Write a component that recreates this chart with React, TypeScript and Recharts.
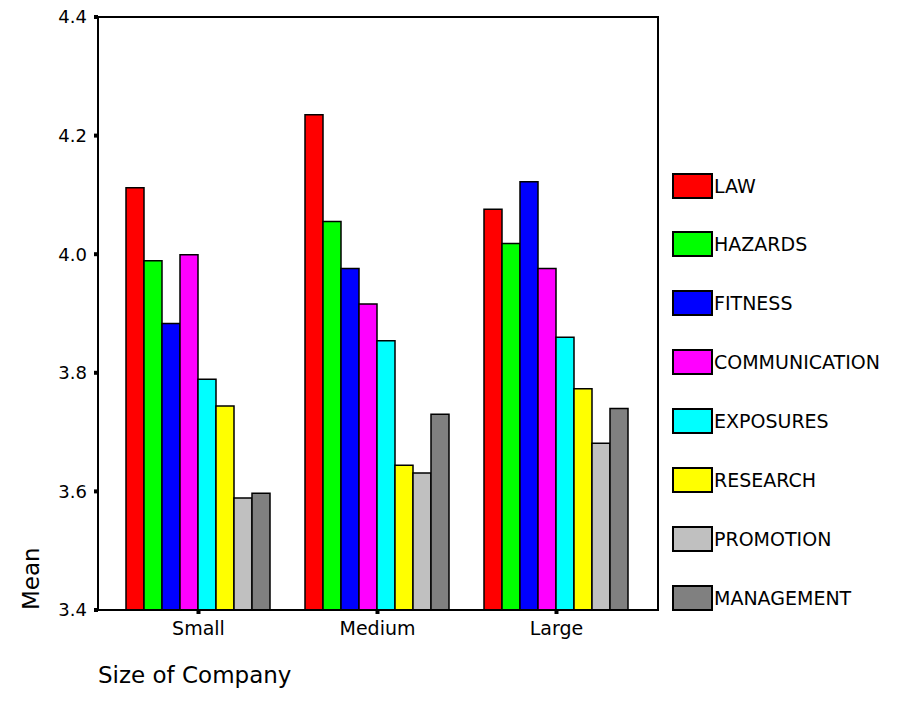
import React from "react";
import { BarChart, Bar, XAxis, YAxis, ReferenceLine } from "recharts";

const categories = ["Small", "Medium", "Large"];
const seriesNames = ["LAW", "HAZARDS", "FITNESS", "COMMUNICATION", "EXPOSURES", "RESEARCH", "PROMOTION", "MANAGEMENT"];
const seriesColors = ["#FF0000", "#00FF00", "#0000FF", "#FF00FF", "#00FFFF", "#FFFF00", "#C0C0C0", "#808080"];
const law = [4.112, 4.235, 4.076];
const hazards = [3.989, 4.055, 4.018];
const fitness = [3.883, 3.976, 4.122];
const communication = [3.999, 3.916, 3.976];
const exposures = [3.789, 3.854, 3.86];
const research = [3.744, 3.644, 3.773];
const promotion = [3.589, 3.631, 3.681];
const management = [3.597, 3.73, 3.74];
const yTicks = [3.4, 3.6, 3.8, 4.0, 4.2, 4.4];

const seriesValues = [law, hazards, fitness, communication, exposures, research, promotion, management];

const data = categories.map((c, i) => {
  const row: Record<string, any> = { category: c };
  seriesNames.forEach((n, k) => {
    row[n] = seriesValues[k][i];
  });
  return row;
});

const FONT = "'DejaVu Sans', 'Liberation Sans', Arial, sans-serif";

export default function App() {
  return (
    <div style={{ position: "relative", width: 897, height: 717, marginTop: -8, fontFamily: FONT }}>
      <BarChart
        width={897}
        height={717}
        data={data}
        margin={{ top: 17, right: 247, bottom: 67, left: 0 }}
        barCategoryGap={17}
        barGap={0}
      >
        <XAxis
          dataKey="category"
          padding={{ left: 11, right: 12 }}
          height={40}
          axisLine={{ stroke: "#000", strokeWidth: 2 }}
          tickLine={{ stroke: "#000", strokeWidth: 4 }}
          tickSize={4}
          tickMargin={8}
          tick={{ fill: "#000", fontSize: 19, fontFamily: FONT }}
        />
        <YAxis
          domain={[3.4, 4.4]}
          ticks={yTicks}
          allowDataOverflow
          width={90}
          interval={0}
          axisLine={{ stroke: "#000", strokeWidth: 2 }}
          tickLine={{ stroke: "#000", strokeWidth: 4 }}
          tickSize={4}
          tickMargin={7}
          tickFormatter={(v: number) => v.toFixed(1)}
          tick={{ fill: "#000", fontSize: 18, fontFamily: FONT }}
        />
        <ReferenceLine y={4.4} stroke="#000" strokeWidth={2} />
        {seriesNames.map((n, k) => (
          <Bar
            key={n}
            dataKey={n}
            fill={seriesColors[k]}
            stroke="#000"
            strokeWidth={1.5}
            isAnimationActive={false}
          />
        ))}
      </BarChart>
      <div
        style={{
          position: "absolute",
          left: 649,
          top: 16,
          width: 2,
          height: 595,
          background: "#000",
        }}
      />
      <div
        style={{
          position: "absolute",
          left: 10,
          top: 553,
          width: 30,
          height: 70,
        }}
      >
        <div
          style={{
            position: "absolute",
            left: 0,
            top: 57,
            fontSize: 23,
            color: "#000",
            transformOrigin: "0 0",
            transform: "rotate(-90deg)",
            whiteSpace: "nowrap",
            lineHeight: "27px",
          }}
        >
          Mean
        </div>
      </div>
      <div
        style={{
          position: "absolute",
          left: 90,
          top: 662,
          fontSize: 23,
          color: "#000",
          whiteSpace: "nowrap",
          lineHeight: "27px",
        }}
      >
        Size of Company
      </div>
      <div style={{ position: "absolute", left: 664, top: 173 }}>
        {seriesNames.map((n, k) => (
          <div
            key={n}
            style={{ position: "absolute", left: 0, top: k * 58.9, display: "flex", alignItems: "center", height: 25 }}
          >
            <div
              style={{
                width: 37,
                height: 22,
                background: seriesColors[k],
                border: "2px solid #000",
                boxSizing: "content-box",
              }}
            />
            <span style={{ fontSize: 19, color: "#000", marginLeft: 1, whiteSpace: "nowrap" }}>{n}</span>
          </div>
        ))}
      </div>
    </div>
  );
}
